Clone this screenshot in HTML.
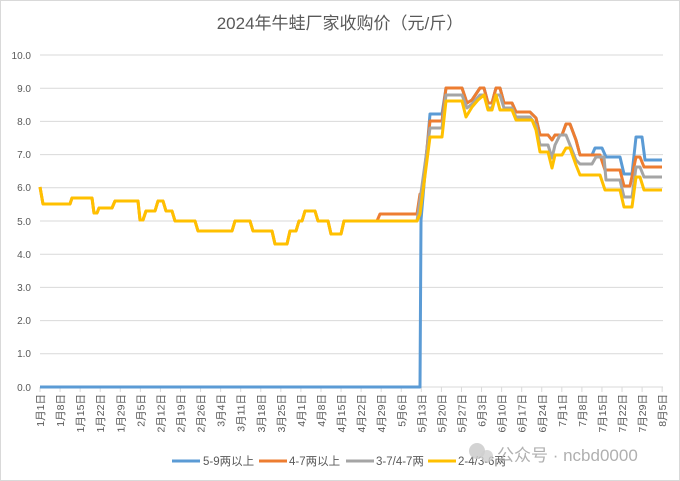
<!DOCTYPE html><html><head><meta charset="utf-8"><style>body{margin:0;background:#fff}svg{display:block;font-family:"Liberation Sans","Noto Sans CJK SC",sans-serif}</style></head><body>
<svg width="680" height="481" viewBox="0 0 680 481" xmlns="http://www.w3.org/2000/svg">
<rect x="0.5" y="0.5" width="679" height="480" fill="#fff" stroke="#d9d9d9"/>
<text x="340" y="29" text-anchor="middle" font-size="17" fill="#595959">2024年牛蛙厂家收购价（元/斤）</text>
<g stroke="#d9d9d9" stroke-width="1">
<line x1="40" x2="663" y1="55" y2="55"/><line x1="40" x2="663" y1="88.2" y2="88.2"/><line x1="40" x2="663" y1="121.4" y2="121.4"/><line x1="40" x2="663" y1="154.6" y2="154.6"/><line x1="40" x2="663" y1="187.8" y2="187.8"/><line x1="40" x2="663" y1="221" y2="221"/><line x1="40" x2="663" y1="254.2" y2="254.2"/><line x1="40" x2="663" y1="287.4" y2="287.4"/><line x1="40" x2="663" y1="320.6" y2="320.6"/><line x1="40" x2="663" y1="353.8" y2="353.8"/><line x1="40" x2="663" y1="387" y2="387"/>
</g>
<g font-size="10" fill="#595959" text-anchor="end">
<text x="31" y="59">10.0</text><text x="31" y="92">9.0</text><text x="31" y="125">8.0</text><text x="31" y="158">7.0</text><text x="31" y="191">6.0</text><text x="31" y="225">5.0</text><text x="31" y="258">4.0</text><text x="31" y="291">3.0</text><text x="31" y="324">2.0</text><text x="31" y="357">1.0</text><text x="31" y="391">0.0</text>
</g>
<g stroke="#d9d9d9">
<line x1="40" x2="40" y1="387" y2="392"/><line x1="60.07" x2="60.07" y1="387" y2="392"/><line x1="80.14" x2="80.14" y1="387" y2="392"/><line x1="100.21" x2="100.21" y1="387" y2="392"/><line x1="120.28" x2="120.28" y1="387" y2="392"/><line x1="140.35" x2="140.35" y1="387" y2="392"/><line x1="160.42" x2="160.42" y1="387" y2="392"/><line x1="180.49" x2="180.49" y1="387" y2="392"/><line x1="200.56" x2="200.56" y1="387" y2="392"/><line x1="220.63" x2="220.63" y1="387" y2="392"/><line x1="240.7" x2="240.7" y1="387" y2="392"/><line x1="260.77" x2="260.77" y1="387" y2="392"/><line x1="280.84" x2="280.84" y1="387" y2="392"/><line x1="300.91" x2="300.91" y1="387" y2="392"/><line x1="320.98" x2="320.98" y1="387" y2="392"/><line x1="341.05" x2="341.05" y1="387" y2="392"/><line x1="361.12" x2="361.12" y1="387" y2="392"/><line x1="381.19" x2="381.19" y1="387" y2="392"/><line x1="401.26" x2="401.26" y1="387" y2="392"/><line x1="421.33" x2="421.33" y1="387" y2="392"/><line x1="441.4" x2="441.4" y1="387" y2="392"/><line x1="461.47" x2="461.47" y1="387" y2="392"/><line x1="481.54" x2="481.54" y1="387" y2="392"/><line x1="501.61" x2="501.61" y1="387" y2="392"/><line x1="521.68" x2="521.68" y1="387" y2="392"/><line x1="541.75" x2="541.75" y1="387" y2="392"/><line x1="561.82" x2="561.82" y1="387" y2="392"/><line x1="581.89" x2="581.89" y1="387" y2="392"/><line x1="601.96" x2="601.96" y1="387" y2="392"/><line x1="622.03" x2="622.03" y1="387" y2="392"/><line x1="642.1" x2="642.1" y1="387" y2="392"/><line x1="662.17" x2="662.17" y1="387" y2="392"/>
</g>
<g font-size="10.5" fill="#595959" text-anchor="end">
<text transform="translate(44,394) rotate(-90)">1月1日</text>
<text transform="translate(64.07,394) rotate(-90)">1月8日</text>
<text transform="translate(84.14,394) rotate(-90)">1月15日</text>
<text transform="translate(104.21,394) rotate(-90)">1月22日</text>
<text transform="translate(124.28,394) rotate(-90)">1月29日</text>
<text transform="translate(144.35,394) rotate(-90)">2月5日</text>
<text transform="translate(164.42,394) rotate(-90)">2月12日</text>
<text transform="translate(184.49,394) rotate(-90)">2月19日</text>
<text transform="translate(204.56,394) rotate(-90)">2月26日</text>
<text transform="translate(224.63,394) rotate(-90)">3月4日</text>
<text transform="translate(244.7,394) rotate(-90)">3月11日</text>
<text transform="translate(264.77,394) rotate(-90)">3月18日</text>
<text transform="translate(284.84,394) rotate(-90)">3月25日</text>
<text transform="translate(304.91,394) rotate(-90)">4月1日</text>
<text transform="translate(324.98,394) rotate(-90)">4月8日</text>
<text transform="translate(345.05,394) rotate(-90)">4月15日</text>
<text transform="translate(365.12,394) rotate(-90)">4月22日</text>
<text transform="translate(385.19,394) rotate(-90)">4月29日</text>
<text transform="translate(405.26,394) rotate(-90)">5月6日</text>
<text transform="translate(425.33,394) rotate(-90)">5月13日</text>
<text transform="translate(445.4,394) rotate(-90)">5月20日</text>
<text transform="translate(465.47,394) rotate(-90)">5月27日</text>
<text transform="translate(485.54,394) rotate(-90)">6月3日</text>
<text transform="translate(505.61,394) rotate(-90)">6月10日</text>
<text transform="translate(525.68,394) rotate(-90)">6月17日</text>
<text transform="translate(545.75,394) rotate(-90)">6月24日</text>
<text transform="translate(565.82,394) rotate(-90)">7月1日</text>
<text transform="translate(585.89,394) rotate(-90)">7月8日</text>
<text transform="translate(605.96,394) rotate(-90)">7月15日</text>
<text transform="translate(626.03,394) rotate(-90)">7月22日</text>
<text transform="translate(646.1,394) rotate(-90)">7月29日</text>
<text transform="translate(666.17,394) rotate(-90)">8月5日</text>
</g>
<g fill="none" stroke-width="3" stroke-linejoin="round">
<polyline stroke="#5b9bd5" points="40,387 420,387 421,220 430,114 442,114 446,88 462,88 467,103 472,100 480,88 484,88 488,103 492,103 496,88 500,88 504,103 512,103 516,112 530,112 536,118 540,135 548,135 552,140 555,135 562,135 566,124 570,124 576,140 580,155 592,155 595,148 602,148 606,157 620,157 624,174 632,174 636,137 642,137 645,160 662,160"/>
<polyline stroke="#ed7d31" points="40,187 43,204 70,204 72,198 92,198 94,213 97,213 99,208 112,208 115,201 138,201 140,220 143,220 146,211 155,211 158,201 163,201 166,211 172,211 175,221 195,221 198,231 232,231 235,221 250,221 253,231 272,231 275,244 287,244 290,231 296,231 299,221 302,221 305,211 315,211 318,221 328,221 331,234 341,234 344,221 377,221 380,214 417,214 420,194 422,194 430,121 442,121 446,88 462,88 467,103 472,100 480,88 484,88 488,103 492,103 496,88 500,88 504,103 512,103 516,112 530,112 536,118 540,135 548,135 552,140 555,135 562,135 566,124 570,124 576,140 580,155 600,155 605,170 620,170 624,186 630,186 636,157 640,157 644,167 662,167"/>
<polyline stroke="#a5a5a5" points="377,221 417,221 420,200 430,128 442,128 446,95 462,95 467,108 472,104 480,95 484,95 488,108 492,108 496,95 500,95 504,108 512,108 516,117 530,117 536,125 540,145 548,145 552,158 555,145 560,135 566,135 576,160 580,164 592,164 596,157 604,157 606,180 620,180 624,197 632,197 636,167 640,167 644,177 662,177"/>
<polyline stroke="#ffc000" points="40,187 43,204 70,204 72,198 92,198 94,213 97,213 99,208 112,208 115,201 138,201 140,220 143,220 146,211 155,211 158,201 163,201 166,211 172,211 175,221 195,221 198,231 232,231 235,221 250,221 253,231 272,231 275,244 287,244 290,231 296,231 299,221 302,221 305,211 315,211 318,221 328,221 331,234 341,234 344,221 417,221 420,214 430,137 442,137 446,101 462,101 466,117 472,107 478,100 484,95 488,110 492,110 496,95 500,110 512,110 516,120 532,120 536,130 540,152 548,152 552,168 555,155 562,155 566,148 570,148 576,165 580,175 600,175 605,190 620,190 624,207 632,207 636,177 640,177 644,190 662,190"/>
</g>
<g stroke-width="3">
<line x1="172" x2="200" y1="461" y2="461" stroke="#5b9bd5"/><line x1="259" x2="287" y1="461" y2="461" stroke="#ed7d31"/><line x1="346" x2="374" y1="461" y2="461" stroke="#a5a5a5"/><line x1="428" x2="456" y1="461" y2="461" stroke="#ffc000"/>
</g>
<g font-size="11.5" fill="#595959">
<text x="203" y="465">5-9两以上</text><text x="289" y="465">4-7两以上</text><text x="376" y="465">3-7/4-7两</text><text x="458" y="465">2-4/3-6两</text>
</g>
<circle cx="477" cy="451" r="8" fill="#c8c8c8" opacity="0.8"/><circle cx="487" cy="456" r="6" fill="#d0d0d0" opacity="0.8"/>
<text x="497" y="461" font-size="17" fill="#b0b0b0">公众号 · ncbd0000</text>
</svg>
</body></html>
